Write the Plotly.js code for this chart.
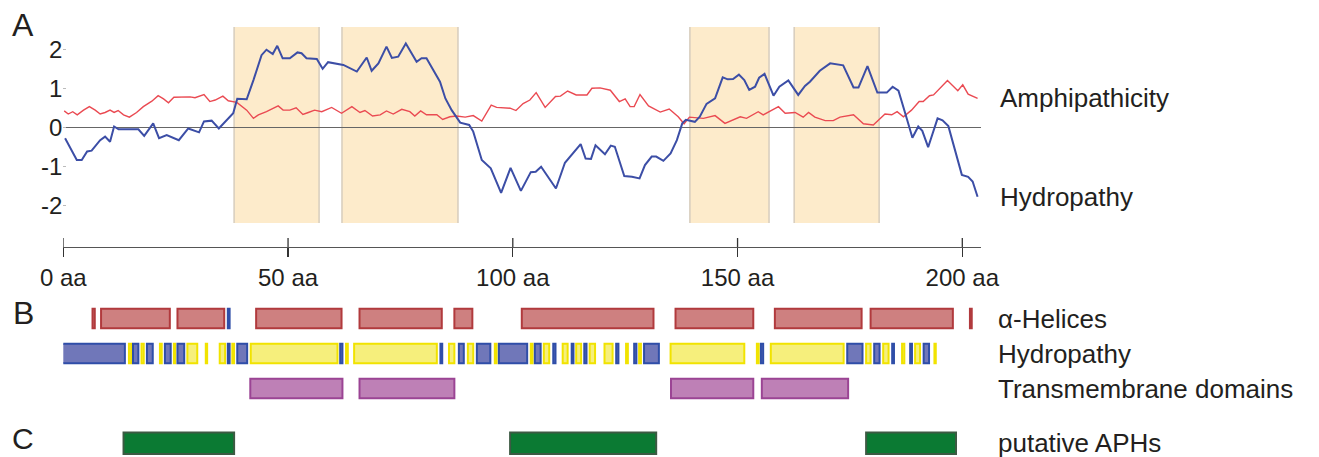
<!DOCTYPE html>
<html>
<head>
<meta charset="utf-8">
<script src="https://cdn.plot.ly/plotly-3.0.1.min.js"></script>
<style>html,body{margin:0;padding:0;background:#fff;}#chart{width:1319px;height:457px;}</style>
</head>
<body>
<div id="chart"></div>
<script>
// ---------- Panel A: profiles (residue position in aa, score) ----------
const hydroX = [0.4,3.0,4.1,5.3,6.3,8.2,9.3,10.4,11.3,12.3,16.7,18.0,20.0,21.3,23.0,25.7,27.8,30.2,31.3,33.0,34.6,36.3,37.8,38.7,40.8,42.3,44.1,45.2,46.6,47.6,48.8,50.4,52.1,53.0,54.1,56.4,57.7,58.9,62.3,65.3,67.5,68.6,70.1,71.9,73.1,74.5,76.2,78.6,79.7,80.8,82.3,83.8,85.0,86.4,88.3,90.3,91.2,93.1,95.1,97.4,99.5,101.8,104.0,105.1,106.3,109.6,111.6,112.7,115.1,116.2,117.4,118.4,120.5,121.8,122.7,124.8,126.5,128.2,129.4,130.9,131.9,133.5,135.1,136.5,137.7,138.5,140.5,141.6,143.1,145.0,146.7,147.8,149.0,150.3,151.5,152.6,153.9,154.8,156.0,158.0,159.3,161.3,163.5,165.0,166.1,168.3,170.6,173.5,175.8,176.9,178.9,181.1,183.2,184.5,185.8,187.3,188.9,190.2,191.1,192.4,194.5,195.6,196.9,199.9,201.3,202.3,203.4];
const hydroY = [-0.27,-0.83,-0.83,-0.61,-0.59,-0.32,-0.23,-0.36,0.03,-0.04,-0.04,-0.21,0.11,-0.27,-0.19,-0.32,-0.02,-0.12,0.16,0.18,-0.02,0.2,0.37,0.74,0.73,1.22,1.86,2.0,1.89,2.1,1.78,1.78,1.93,1.91,1.78,1.76,1.51,1.68,1.61,1.44,1.8,1.46,1.65,2.08,1.79,1.82,2.16,1.69,1.78,1.78,1.48,1.18,0.75,0.45,0.13,0.07,-0.10,-0.83,-1.04,-1.67,-1.03,-1.62,-1.14,-1.13,-1.0,-1.56,-0.9,-0.74,-0.42,-0.79,-0.8,-0.45,-0.68,-0.46,-0.49,-1.24,-1.26,-1.3,-0.96,-0.74,-0.74,-0.85,-0.66,-0.32,0.11,0.2,0.15,0.28,0.61,0.75,1.29,1.24,1.25,1.36,1.22,0.97,1.05,1.28,1.38,0.82,1.05,1.21,0.84,1.07,1.18,1.46,1.65,1.6,1.03,1.03,1.58,0.9,0.9,1.05,0.95,0.37,-0.26,0.03,-0.08,-0.5,0.24,0.19,0.04,-1.21,-1.26,-1.38,-1.77];
const amphX = [0.2,1.1,2.1,3.1,4.5,5.8,7.1,8.2,9.3,10.4,11.3,12.2,13.4,14.7,16.3,17.8,19.7,21.1,22.3,23.4,24.6,26.3,28.2,29.3,31.3,32.6,33.8,35.5,36.7,38.6,40.8,42.3,43.4,45.2,47.8,48.9,50.4,51.8,53.3,54.5,55.9,57.5,59.7,61.9,64.2,66.0,67.1,68.8,70.5,71.9,73.4,75.3,77.1,78.2,79.5,80.8,83.1,84.4,86.0,87.5,89.4,91.2,93.1,95.2,96.4,99.4,100.7,102.3,103.8,105.2,107.2,109.5,110.6,112.2,114.1,116.5,117.6,119.4,121.7,123.7,125.0,126.1,127.0,128.3,130.2,132.8,134.8,136.8,138.1,139.3,142.4,145.0,147.2,150.6,152.0,154.6,155.7,159.1,160.6,162.8,164.6,165.8,167.2,169.5,171.3,172.8,175.8,178.0,180.2,182.8,184.3,185.5,186.9,188.7,190.4,191.3,192.7,193.6,195.1,196.7,199.0,200.1,201.3,203.4];
const amphY = [0.43,0.35,0.41,0.33,0.45,0.54,0.45,0.35,0.39,0.45,0.39,0.44,0.33,0.27,0.39,0.54,0.68,0.82,0.74,0.64,0.78,0.78,0.79,0.77,0.85,0.67,0.71,0.81,0.69,0.65,0.45,0.24,0.33,0.41,0.56,0.45,0.45,0.51,0.34,0.39,0.45,0.41,0.52,0.37,0.54,0.39,0.44,0.30,0.33,0.43,0.35,0.47,0.41,0.30,0.43,0.33,0.33,0.21,0.28,0.30,0.27,0.31,0.17,0.58,0.52,0.50,0.44,0.62,0.71,0.90,0.52,0.80,0.81,0.94,0.84,0.84,1.01,1.02,0.96,0.67,0.74,0.54,0.54,0.85,0.56,0.40,0.48,0.28,0.10,0.27,0.24,0.31,0.11,0.28,0.24,0.41,0.33,0.54,0.37,0.39,0.27,0.39,0.27,0.18,0.18,0.27,0.33,0.10,0.07,0.35,0.33,0.41,0.28,0.45,0.67,0.67,0.82,0.84,1.03,1.21,0.95,1.10,0.86,0.75];

// shaded transmembrane regions (aa)
const regionStart = [38.0, 62.0, 139.4, 162.6];
const regionEnd   = [56.9, 87.8, 157.0, 181.5];

// axis ticks
const xTickVals = [0, 50, 100, 150, 200];
const xTickText = ['0 aa', '50 aa', '100 aa', '150 aa', '200 aa'];
const yTickVals = [-2, -1, 0, 1, 2];
const yTickText = ['-2', '-1', '0', '1', '2'];

// ---------- Panel B / C tracks (aa start, aa end) ----------
const trackNames = ['α-Helices', 'Hydropathy', 'Transmembrane domains'];
const aphName = 'putative APHs';

const helixStart = [6.5, 8.4, 25.4, 36.6, 42.9, 65.9, 87.0, 102.0, 136.2, 158.3, 179.6, 201.7];
const helixEnd   = [7.0, 23.7, 35.8, 37.0, 61.9, 84.2, 91.0, 131.3, 153.5, 177.6, 197.9, 202.1];
const helixKind  = ['h','h','h','b','h','h','h','h','h','h','h','h'];

const hydStart = [-0.4,14.6,15.5,17.4,18.6,21.5,22.6,24.6,25.4,27.6,31.7,34.8,36.6,37.6,38.7,41.7,61.6,62.9,64.7,83.9,85.8,88.0,90.0,92.0,96.0,96.9,104.0,104.9,106.9,109.0,111.1,113.1,114.1,115.9,117.1,120.4,123.0,125.2,127.0,128.1,129.2,135.1,154.3,155.2,157.4,174.4,178.6,180.4,182.4,184.4,186.6,188.4,189.5,191.4,193.8];
const hydEnd   = [13.7,15.1,16.7,17.9,19.9,21.9,23.9,24.9,26.9,29.8,32.0,36.0,37.0,38.0,40.9,61.0,62.1,63.3,83.1,84.3,87.0,89.1,91.2,95.0,96.4,103.2,104.4,106.2,108.1,109.5,112.2,113.5,115.2,116.4,118.3,122.2,123.5,125.6,127.5,128.5,132.5,151.5,154.7,155.7,173.6,177.8,179.6,181.6,183.6,184.8,187.1,188.8,190.6,192.6,194.1];
const hydKind  = ['B','Y','B','Y','B','Y','B','Y','B','Y','Y','Y','B','Y','B','Y','B','Y','Y','B','Y','B','Y','B','Y','B','Y','B','Y','B','Y','B','Y','B','Y','Y','B','Y','B','Y','B','Y','Y','B','Y','B','Y','B','Y','B','Y','B','Y','B','Y'];

const tmStart = [41.6, 65.9, 135.2, 155.4];
const tmEnd   = [62.1, 87.0, 153.5, 174.6];

const aphStart = [13.4, 99.4, 178.6];
const aphEnd   = [38.0, 131.9, 198.6];

// ---------- styles ----------
const C = {
  hydLine: '#3c4ea6', amphLine: '#ea4a52',
  region: '#fdebcb', regionEdge: '#d9cfbf',
  helixFill: '#ce8080', helixEdge: '#b13a3d',
  blueFill: '#7077b9', blueEdge: '#2f4ea8',
  yellowFill: '#f6ef7c', yellowEdge: '#f1e300',
  tmFill: '#be80b6', tmEdge: '#9b4494',
  aphFill: '#0b7a33', aphEdge: '#3c5a43',
  text: '#231f20'
};
const FONT = 'Liberation Sans, Arial, sans-serif';

const len = (s, e) => s.map((v, i) => e[i] - v);
const trackBar = (start, end, cat, fills, edges, yax, w) => ({
  type: 'bar', orientation: 'h', xaxis: 'x', yaxis: yax,
  base: start, x: len(start, end), y: start.map(() => cat),
  width: w,
  marker: { color: fills, line: { color: edges, width: 2 } },
  hoverinfo: 'skip'
});

const traces = [
  { type: 'scatter', mode: 'lines', x: amphX, y: amphY, xaxis: 'x', yaxis: 'y',
    line: { color: C.amphLine, width: 1.4 }, hoverinfo: 'skip' },
  { type: 'scatter', mode: 'lines', x: hydroX, y: hydroY, xaxis: 'x', yaxis: 'y',
    line: { color: C.hydLine, width: 2 }, hoverinfo: 'skip' },
  trackBar(helixStart, helixEnd, trackNames[0],
    helixKind.map(k => k === 'h' ? C.helixFill : C.blueFill),
    helixKind.map(k => k === 'h' ? C.helixEdge : C.blueEdge), 'y2', 0.56),
  trackBar(hydStart, hydEnd, trackNames[1],
    hydKind.map(k => k === 'B' ? C.blueFill : C.yellowFill),
    hydKind.map(k => k === 'B' ? C.blueEdge : C.yellowEdge), 'y2', 0.56),
  trackBar(tmStart, tmEnd, trackNames[2],
    tmStart.map(() => C.tmFill), tmStart.map(() => C.tmEdge), 'y2', 0.56),
  trackBar(aphStart, aphEnd, aphName,
    aphStart.map(() => C.aphFill), aphStart.map(() => C.aphEdge), 'y3', 0.78)
];

const W = 1319, H = 457;
const axisPos = 1 - 247 / H;
const tickUp = 9 / H;

const shapes = [];
regionStart.forEach((s, i) => {
  shapes.push({ type: 'rect', xref: 'x', yref: 'y domain', x0: s, x1: regionEnd[i], y0: 0, y1: 1,
    fillcolor: C.region, line: { width: 0 }, layer: 'below' });
  [s, regionEnd[i]].forEach(v => shapes.push({ type: 'line', xref: 'x', yref: 'y domain',
    x0: v, x1: v, y0: 0, y1: 1, line: { color: C.regionEdge, width: 1.6 }, layer: 'below' }));
});
// upper halves of the crossing ticks on the position axis
xTickVals.forEach(v => shapes.push({ type: 'line', xref: 'x', yref: 'paper',
  x0: v, x1: v, y0: axisPos, y1: axisPos + tickUp, line: { color: '#333', width: 1.3 } }));

const lastH = hydroX.length - 1, lastA = amphX.length - 1;

const layout = {
  width: W, height: H,
  margin: { l: 0, r: 0, t: 0, b: 0, pad: 0 },
  paper_bgcolor: '#ffffff', plot_bgcolor: 'rgba(0,0,0,0)',
  showlegend: false, barmode: 'overlay',
  font: { family: FONT, color: C.text, size: 24 },
  xaxis: {
    domain: [63.3 / W, 981 / W], range: [0, 204.16],
    anchor: 'free', position: axisPos,
    showline: true, linecolor: '#555', linewidth: 1,
    ticks: 'outside', ticklen: 9, tickwidth: 1.3, tickcolor: '#333',
    tickmode: 'array', tickvals: xTickVals, ticktext: xTickText,
    tickfont: { size: 24, family: FONT, color: C.text },
    showgrid: false, zeroline: false, fixedrange: true
  },
  yaxis: {
    domain: [1 - 223 / H, 1 - 27 / H], range: [-2.444, 2.582], anchor: 'x',
    tickmode: 'array', tickvals: yTickVals, ticktext: yTickText,
    ticks: 'inside', ticklen: 3, tickcolor: '#bbbbbb',
    tickfont: { size: 24, family: FONT, color: C.text },
    showline: false, showgrid: false,
    zeroline: true, zerolinecolor: '#666666', zerolinewidth: 1.2
  },
  yaxis2: {
    domain: [1 - 406 / H, 1 - 301 / H], anchor: 'x', side: 'right',
    type: 'category', categoryorder: 'array', categoryarray: trackNames.slice().reverse(),
    range: [-0.5, 2.5],
    ticks: '', showline: false, showgrid: false, zeroline: false,
    tickfont: { size: 26, family: FONT, color: C.text }, ticklabelstandoff: 16
  },
  yaxis3: {
    domain: [0, 1 - 424 / H], anchor: 'x', side: 'right',
    type: 'category', range: [-0.5, 0.7],
    ticks: '', showline: false, showgrid: false, zeroline: false,
    tickfont: { size: 26, family: FONT, color: C.text }, ticklabelstandoff: 16
  },
  shapes: shapes,
  annotations: [
    { x: amphX[lastA], y: amphY[lastA], xref: 'x', yref: 'y', text: 'Amphipathicity',
      showarrow: false, xanchor: 'left', yanchor: 'middle', xshift: 20,
      font: { size: 26, family: FONT, color: C.text } },
    { x: hydroX[lastH], y: hydroY[lastH], xref: 'x', yref: 'y', text: 'Hydropathy',
      showarrow: false, xanchor: 'left', yanchor: 'middle', xshift: 20,
      font: { size: 26, family: FONT, color: C.text } },
    { x: 23 / W, y: 1 - 25 / H, xref: 'paper', yref: 'paper', text: 'A', showarrow: false,
      xanchor: 'center', yanchor: 'middle', font: { size: 32, family: FONT, color: C.text } },
    { x: 23 / W, y: 1 - 313 / H, xref: 'paper', yref: 'paper', text: 'B', showarrow: false,
      xanchor: 'center', yanchor: 'middle', font: { size: 32, family: FONT, color: C.text } },
    { x: 23 / W, y: 1 - 438 / H, xref: 'paper', yref: 'paper', text: 'C', showarrow: false,
      xanchor: 'center', yanchor: 'middle', font: { size: 30, family: FONT, color: C.text } }
  ]
};

Plotly.newPlot('chart', traces, layout, { staticPlot: true, displayModeBar: false });
</script>
</body>
</html>
